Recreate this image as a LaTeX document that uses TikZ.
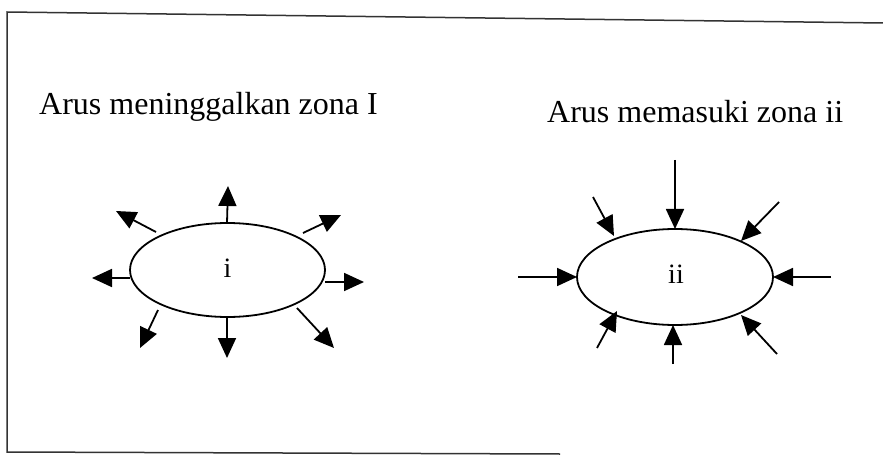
\documentclass[tikz,border=0pt]{standalone}
\usepackage{fontspec}
\setmainfont{Liberation Serif}
\usetikzlibrary{arrows.meta}
\tikzset{
  flow/.style={line width=1.8pt, -{Triangle[length=20pt,width=18pt]}},
  frameline/.style={line width=1.5pt, draw=black!80},
  zone/.style={draw, line width=1.8pt},
  title/.style={anchor=base west, inner sep=0pt, font=\fontsize{32}{37}\selectfont},
  zlabel/.style={inner sep=0pt, font=\fontsize{28}{32}\selectfont}
}
\begin{document}
\begin{tikzpicture}[x=1pt,y=-1pt]
\useasboundingbox (0,0) rectangle (883,457);
% frame
\coordinate (tl) at (7,12);
\coordinate (tr) at (883,23);
\coordinate (bl) at (7,452);
\coordinate (br) at (560,454);
\draw[frameline] (tr) -- (tl) -- (bl) -- (br);
% titles
\node[title] (t1) at (39,115) {Arus meninggalkan zona I};
\node[title] (t2) at (547,123) {Arus memasuki zona ii};
% zone i
\draw[zone] (227.5,270) ellipse [x radius=97.5, y radius=47];
\node[zlabel] (li) at (227.5,268) {i};
\coordinate (a1s) at (227,223); \coordinate (a1e) at (228,186);
\coordinate (a2s) at (303,233); \coordinate (a2e) at (341,215);
\coordinate (a3s) at (325,282); \coordinate (a3e) at (364,282);
\coordinate (a4s) at (297,308); \coordinate (a4e) at (334,348);
\coordinate (a5s) at (227,317); \coordinate (a5e) at (227,358);
\coordinate (a6s) at (158,310); \coordinate (a6e) at (140,348);
\coordinate (a7s) at (130,278); \coordinate (a7e) at (92,278);
\coordinate (a8s) at (156,232); \coordinate (a8e) at (116,211);
\foreach \k in {1,...,8} {\draw[flow] (a\k s) -- (a\k e);}
% zone ii
\draw[zone] (675,277) ellipse [x radius=98, y radius=48];
\node[zlabel] (lii) at (676,274) {ii};
\coordinate (b1s) at (675,160); \coordinate (b1e) at (675,229);
\coordinate (b2s) at (593,197); \coordinate (b2e) at (614,236);
\coordinate (b3s) at (779,202); \coordinate (b3e) at (741,241);
\coordinate (b4s) at (831,277); \coordinate (b4e) at (773,277);
\coordinate (b5s) at (777,354); \coordinate (b5e) at (741,315);
\coordinate (b6s) at (673,364); \coordinate (b6e) at (673,325);
\coordinate (b7s) at (597,348); \coordinate (b7e) at (617,311);
\coordinate (b8s) at (518,277); \coordinate (b8e) at (577,277);
\foreach \k in {1,...,8} {\draw[flow] (b\k s) -- (b\k e);}
\end{tikzpicture}
\end{document}
